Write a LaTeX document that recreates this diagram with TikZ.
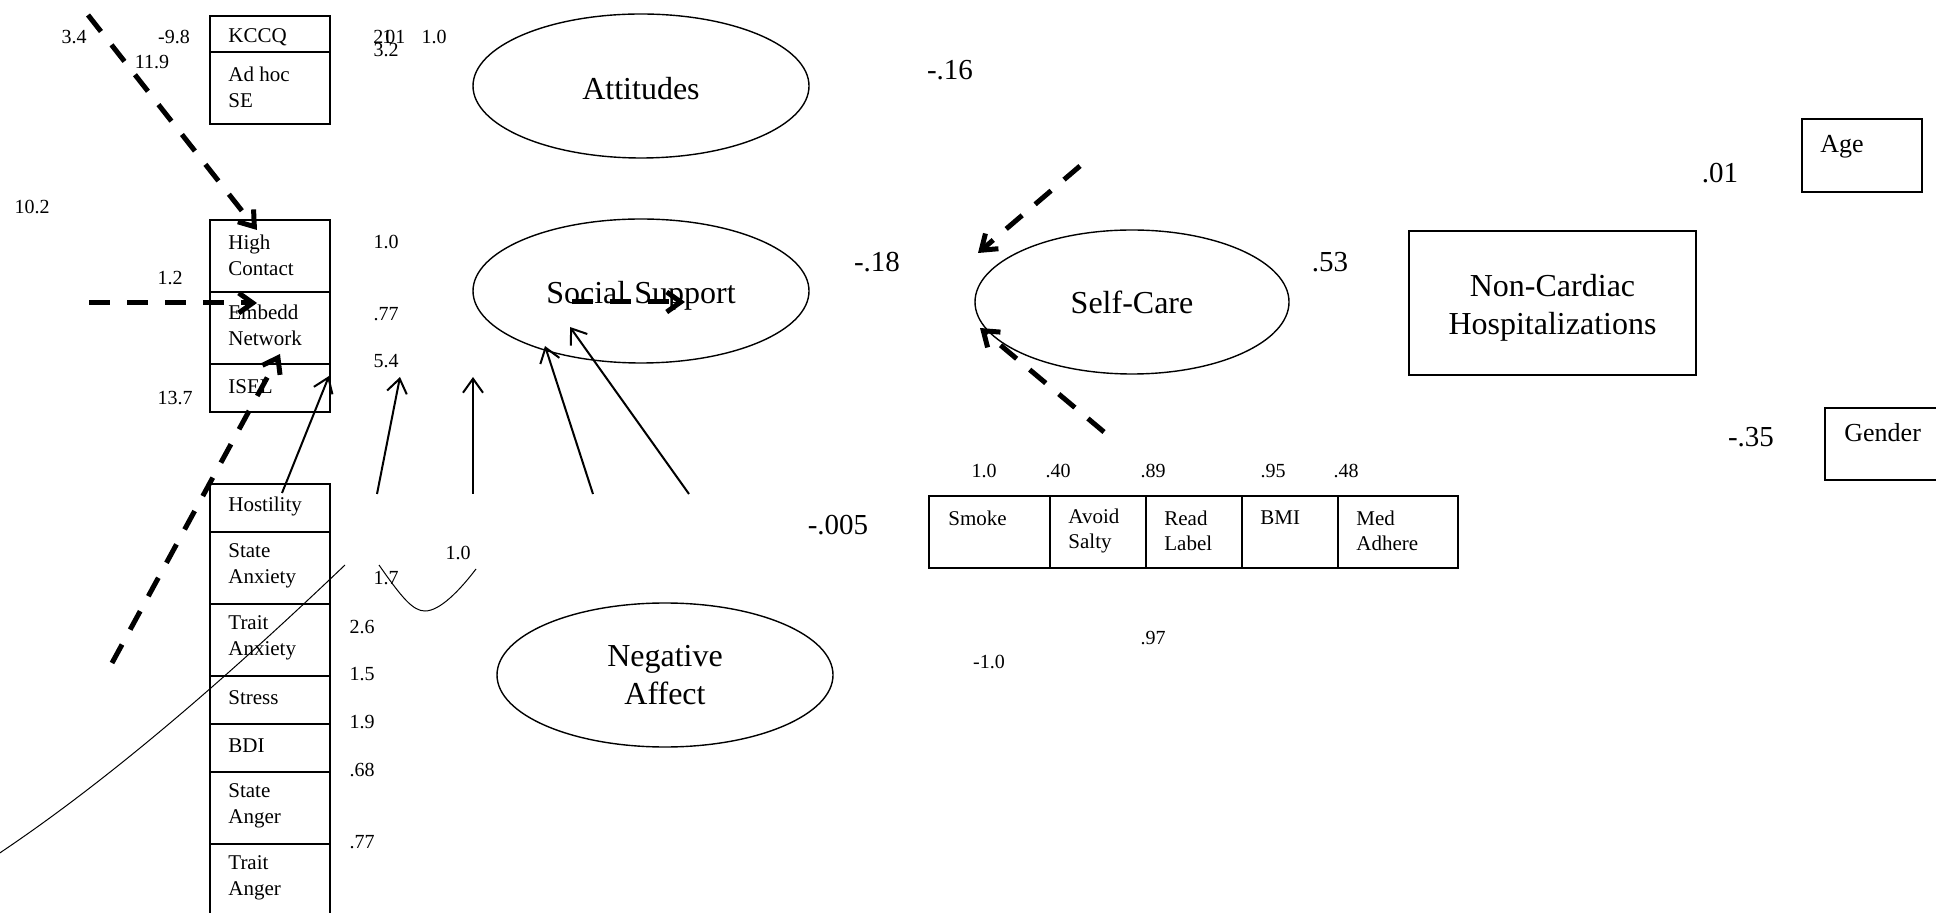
\documentclass[tikz,border=0pt]{standalone}
\usepackage{fontspec}
\setmainfont{Liberation Serif}
\usetikzlibrary{arrows.meta,shapes.geometric}

\begin{document}
\begin{tikzpicture}[x=0.5pt,y=-0.5pt,
  cell/.style={draw, line width=1pt, inner sep=0pt, anchor=north west, minimum width=60pt},
  lbl/.style={inner sep=0pt, anchor=west, align=left, font=\fontsize{10.5}{13}\selectfont},
  ilbl/.style={inner sep=0pt, anchor=west, align=left, font=\fontsize{10.5}{12.5}\selectfont},
  ell/.style={draw, ellipse, line width=0.7pt, inner sep=0pt,
    minimum width=168pt, minimum height=72pt},
  title/.style={inner sep=0pt, align=center, font=\fontsize{16}{19}\selectfont},
  num/.style={inner sep=0pt, font=\fontsize{10}{12}\selectfont},
  big/.style={inner sep=0pt, font=\fontsize{14.5}{17}\selectfont},
  side/.style={inner sep=0pt, anchor=west, font=\fontsize{13}{15}\selectfont},
  path/.style={line width=1pt, -{Straight Barb[length=7pt,width=10pt]}},
  effect/.style={line width=2.5pt, dash pattern=on 10.5pt off 8.5pt,
    -{Straight Barb[length=7pt,width=10pt]}},
  trace/.style={line width=0.5pt}
]
\useasboundingbox (0,0) rectangle (1936,913);
\clip (0,0) rectangle (1936,913);

% attitude indicators
\node[cell, minimum height=18pt] (kccq) at (209,15) {};
\node[cell, minimum height=36pt] (adhoc) at (209,51) {};
\node[lbl] (tkccq) at (228,37) {KCCQ};
\node[lbl] (tadhoc) at (228,87) {Ad hoc\\SE};

% social support indicators
\node[cell, minimum height=36pt] (high) at (209,219) {};
\node[cell, minimum height=36pt] (embed) at (209,291) {};
\node[cell, minimum height=24pt] (isel) at (209,363) {};
\node[lbl] (thigh) at (228,255) {High\\Contact};
\node[lbl] (tembed) at (228,325) {Embedd\\Network};
\node[lbl] (tisel) at (228,387) {ISEL};

% negative affect indicators
\node[cell, minimum height=24pt] (host) at (209,483) {};
\node[cell, minimum height=36pt] (stanx) at (209,531) {};
\node[cell, minimum height=36pt] (tranx) at (209,603) {};
\node[cell, minimum height=24pt] (stress) at (209,675) {};
\node[cell, minimum height=24pt] (bdi) at (209,723) {};
\node[cell, minimum height=36pt] (stang) at (209,771) {};
\node[cell, minimum height=40pt] (trang) at (209,843) {};
\node[lbl] (thost) at (228,506) {Hostility};
\node[lbl] (tstanx) at (228,566) {State\\Anxiety};
\node[lbl] (ttranx) at (228,638) {Trait\\Anxiety};
\node[lbl] (tstress) at (228,698) {Stress};
\node[lbl] (tbdi) at (228,746) {BDI};
\node[lbl] (tstang) at (228,806) {State\\Anger};
\node[lbl] (ttrang) at (228,878) {Trait\\Anger};

% latent variables
\node[ell] (att) at (641,86) {};
\node[ell] (soc) at (641,291) {};
\node[ell] (neg) at (665,675) {};
\node[ell, minimum width=157pt] (self) at (1132,302) {};
\node[title, yshift=-1.5pt] (tatt) at (att.center) {Attitudes};
\node[title, yshift=-2.5pt] (tsoc) at (soc.center) {Social Support};
\node[title] (tneg) at (neg.center) {Negative\\Affect};
\node[title] (tself) at (self.center) {Self-Care};

% outcome and covariates
\node[draw, line width=1pt, minimum width=143.5pt, minimum height=72pt,
  inner sep=0pt] (hosp) at (1552.5,303) {};
\node[title, yshift=-2.5pt] (thosp) at (hosp.center) {Non-Cardiac\\Hospitalizations};
\node[cell, minimum height=36.5pt] (age) at (1801,118) {};
\node[side] (tage) at (1820,147) {Age};
\node[cell, minimum width=75pt, minimum height=36pt] (gender) at (1824,407) {};
\node[side] (tgender) at (1844,433) {Gender};

% self-care indicators
\node[cell, minimum width=60.5pt, minimum height=36pt] (smoke) at (928,495) {};
\node[cell, minimum width=48pt, minimum height=36pt] (salty) at (1049,495) {};
\node[cell, minimum width=48pt, minimum height=36pt] (label) at (1145,495) {};
\node[cell, minimum width=48pt, minimum height=36pt] (bmi) at (1241,495) {};
\node[cell, minimum width=60pt, minimum height=36pt] (med) at (1337,495) {};
\node[ilbl] (tsmoke) at (948,518) {Smoke};
\node[ilbl] (tsalty) at (1068,530.5) {Avoid\\Salty};
\node[ilbl] (tlabel) at (1164,530.5) {Read\\Label};
\node[ilbl] (tbmi) at (1260,518) {BMI};
\node[ilbl] (tmed) at (1356,530.5) {Med\\Adhere};

% loadings and path coefficients
\node[num] (n34) at (74,37) {3.4};
\node[num] (n98) at (174,37) {-9.8};
\node[num] (n119) at (152,62) {11.9};
\node[num] (n102) at (32,207) {10.2};
\node[num] (n12) at (170,278) {1.2};
\node[num] (n137) at (175,398) {13.7};
\node[num, anchor=west] (n2101) at (373,37) {2\kern-0.5pt1\kern-3.5pt01};
\node[num] (n32) at (386,50) {3.2};
\node[num] (n10a) at (434,37) {1.0};
\node[num] (n10b) at (386,242) {1.0};
\node[num] (n77a) at (386,314) {.77};
\node[num] (n54) at (386,361) {5.4};
\node[num] (n10c) at (458,553) {1.0};
\node[num] (n17) at (386,578) {1.7};
\node[num] (n26) at (362,627) {2.6};
\node[num] (n15) at (362,674) {1.5};
\node[num] (n19) at (362,722) {1.9};
\node[num] (n68) at (362,770) {.68};
\node[num] (n77b) at (362,842) {.77};
\node[num] (s10) at (984,471) {1.0};
\node[num] (s40) at (1058,471) {.40};
\node[num] (s89) at (1153,471) {.89};
\node[num] (s95) at (1273,471) {.95};
\node[num] (s48) at (1346,471) {.48};
\node[num] (s97) at (1153,638) {.97};
\node[num] (sm10) at (989,662) {-1.0};
\node[big] (b16) at (950,70) {-.16};
\node[big] (b18) at (877,262) {-.18};
\node[big] (b53) at (1330,262) {.53};
\node[big] (b005) at (838,525) {-.005};
\node[big] (b01) at (1720,173) {.01};
\node[big] (b35) at (1751,437) {-.35};

% solid paths
\coordinate (p1s) at (282,493); \coordinate (p1e) at (329,376);
\coordinate (p2s) at (377,494); \coordinate (p2e) at (400,377);
\coordinate (p3s) at (473,494); \coordinate (p3e) at (473,377);
\coordinate (p4s) at (593,494); \coordinate (p4e) at (545,346);
\coordinate (p5s) at (689,494); \coordinate (p5e) at (570,327);
\draw[path] (p1s) -- (p1e);
\draw[path] (p2s) -- (p2e);
\draw[path] (p3s) -- (p3e);
\draw[path] (p4s) -- (p4e);
\draw[path] (p5s) -- (p5e);

% dashed paths
\coordinate (d1s) at (88,15);    \coordinate (d1e) at (257,230);
\coordinate (d2s) at (89,303);   \coordinate (d2e) at (257,303);
\coordinate (d3s) at (112,663);  \coordinate (d3e) at (280,354);
\coordinate (d4s) at (572,302);  \coordinate (d4e) at (685,302);
\coordinate (d5s) at (1080,166); \coordinate (d5e) at (978,253);
\coordinate (d6s) at (1104,432); \coordinate (d6e) at (980,328);
\draw[effect] (d1s) -- (d1e);
\draw[effect] (d2s) -- (d2e);
\draw[effect] (d3s) -- (d3e);
\draw[effect] (d4s) -- (d4e);
\draw[effect] (d5s) -- (d5e);
\draw[effect] (d6s) -- (d6e);

% covariance curves
\coordinate (c1s) at (-20,866); \coordinate (c1e) at (345,565);
\draw[trace] (c1s) .. controls (110,782) and (240,665) .. (c1e);
\coordinate (c2s) at (379,565); \coordinate (c2m) at (425,611); \coordinate (c2e) at (476,569);
\draw[trace] (c2s) .. controls (402,598) and (413,611) .. (c2m)
  .. controls (440,611) and (460,590) .. (c2e);
\end{tikzpicture}
\end{document}
